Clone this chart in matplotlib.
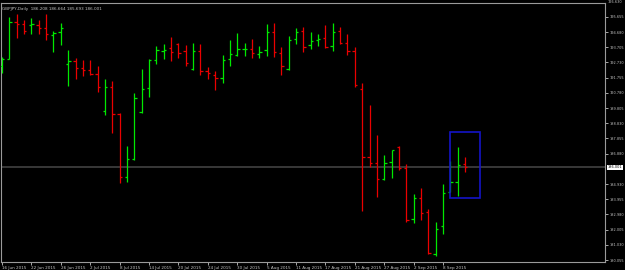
import numpy as np
import matplotlib
matplotlib.use("Agg")
import matplotlib.pyplot as plt
import matplotlib.transforms as mtransforms
from matplotlib.patches import Rectangle

# daily GBPJPY bars, 16 Jun 2015 .. 11 Sep 2015
opens = [192.50, 192.97, 195.32, 195.19, 195.15, 195.15, 194.92, 194.47, 194.66, 192.65,
         192.82, 192.35, 192.26, 191.98, 189.61, 191.17, 189.42, 185.36, 186.55, 189.53,
         191.07, 192.88, 193.46, 193.67, 193.89, 193.48, 192.31, 193.46, 192.18, 191.92,
         191.71, 192.93, 193.19, 193.56, 193.57, 193.27, 193.51, 194.66, 193.35, 192.31,
         194.21, 194.73, 193.85, 194.15, 194.28, 193.76, 194.74, 193.96, 193.46, 191.01,
         186.66, 186.28, 185.23, 186.32, 187.32, 185.94, 182.67, 184.03, 183.12, 180.42,
         182.24, 184.42, 185.06, 186.208]
highs = [193.08, 195.62, 195.83, 195.45, 195.56, 195.45, 195.85, 194.74, 195.26, 193.51,
         192.99, 192.88, 192.86, 192.50, 191.65, 191.56, 189.47, 187.37, 190.75, 192.31,
         192.93, 193.78, 193.91, 194.34, 193.96, 193.85, 193.98, 193.91, 192.46, 192.18,
         193.21, 194.15, 194.60, 194.00, 194.23, 193.80, 195.19, 195.24, 193.74, 194.42,
         194.96, 194.98, 194.68, 194.55, 195.13, 195.26, 195.00, 194.55, 193.72, 191.39,
         190.00, 188.07, 186.79, 187.11, 187.37, 186.21, 184.27, 184.67, 183.31, 182.49,
         184.93, 186.43, 187.28, 186.664]
lows = [192.05, 192.95, 194.32, 194.57, 194.57, 194.53, 194.19, 193.42, 193.87, 191.24,
        191.67, 191.84, 191.90, 190.85, 189.36, 188.22, 184.98, 185.08, 186.47, 189.50,
        190.53, 192.65, 192.97, 192.82, 192.99, 192.50, 192.26, 191.90, 191.65, 190.98,
        191.43, 192.52, 193.16, 193.14, 193.03, 193.03, 193.16, 193.10, 191.94, 192.26,
        193.93, 193.42, 193.59, 193.78, 193.67, 193.48, 193.93, 193.22, 191.13, 183.20,
        186.00, 184.12, 185.19, 185.34, 185.83, 182.51, 182.45, 182.64, 180.46, 180.33,
        181.74, 184.40, 184.18, 185.693]
closes = [192.97, 195.30, 195.17, 194.73, 195.17, 194.94, 194.55, 194.62, 194.96, 192.80,
          192.39, 192.26, 191.98, 191.17, 191.17, 189.40, 185.40, 186.55, 190.43, 191.04,
          192.88, 193.53, 193.54, 193.38, 193.31, 192.67, 193.46, 192.20, 192.05, 191.71,
          192.86, 193.27, 193.59, 193.59, 193.31, 193.42, 194.66, 193.38, 192.48, 194.17,
          194.66, 193.70, 194.08, 194.21, 193.72, 194.66, 193.99, 193.46, 191.26, 186.66,
          186.28, 185.25, 186.28, 187.09, 185.94, 182.64, 184.05, 183.07, 180.52, 182.04,
          184.33, 185.06, 186.17, 186.001]

date_labels = ["16 Jun 2015", "22 Jun 2015", "26 Jun 2015", "2 Jul 2015", "8 Jul 2015",
               "14 Jul 2015", "20 Jul 2015", "24 Jul 2015", "30 Jul 2015", "5 Aug 2015",
               "11 Aug 2015", "17 Aug 2015", "21 Aug 2015", "27 Aug 2015", "2 Sep 2015",
               "8 Sep 2015"]
price_labels = ["195.655", "194.680", "193.705", "192.730", "191.755", "190.780",
                "189.805", "188.830", "187.855", "186.880", "184.930", "183.955",
                "182.980", "182.005", "181.030", "180.055"]
top_label = "196.630"
bid = 186.001
title = "GBPJPY,Daily  186.208 186.664 185.693 186.001"

# zone box drawn on the chart (bar index / price)
box_x = [61.0, 65.1]
box_y = [184.01, 188.25]

GREEN = "#00e800"
RED = "#ea0000"
GREY = "#c4c4c4"
FS = 3.0
FS_Y = 2.55


def main():
    fig = plt.figure(figsize=(6.25, 2.7), dpi=100, facecolor="black")
    ax = fig.add_axes([0.0016, 0.0296, 0.9664, 0.9593])
    ax.set_facecolor("black")

    x = np.arange(len(opens))
    o = np.array(opens)
    c = np.array(closes)
    cols = [GREEN if cc >= oo else RED for oo, cc in zip(o, c)]

    # bid line behind the bars
    ax.axhline(bid, color="#3c3c3c", lw=1.3, zorder=1)

    ax.vlines(x, lows, highs, colors=cols, lw=0.9, zorder=3)
    ax.hlines(o, x - 0.32, x, colors=cols, lw=0.9, zorder=3)
    ax.hlines(c, x, x + 0.32, colors=cols, lw=0.9, zorder=3)

    ax.add_patch(Rectangle((box_x[0], box_y[0]), box_x[1] - box_x[0], box_y[1] - box_y[0],
                           fill=False, edgecolor="#1414c8", lw=1.2, zorder=4))

    ax.set_xlim(-0.14, 82.04)
    ax.set_ylim(179.93, 196.54)

    for s in ax.spines.values():
        s.set_color("#9a9a9a")
        s.set_linewidth(0.8)

    ax.yaxis.tick_right()
    ax.set_yticks([float(p) for p in price_labels])
    ax.set_yticklabels(price_labels)
    ax.set_xticks(np.arange(0, len(opens), 4))
    ax.set_xticklabels(date_labels)
    plt.setp(ax.get_xticklabels(), ha="left")
    ax.tick_params(axis="both", colors=GREY, length=2, width=0.6, pad=1.0)
    ax.tick_params(axis="x", labelsize=FS)
    ax.tick_params(axis="y", labelsize=FS_Y)

    tr = mtransforms.blended_transform_factory(ax.transAxes, ax.transData)
    ax.text(1.0045, 196.63, top_label, transform=tr, color=GREY, fontsize=FS_Y,
            va="center", ha="left", clip_on=False)
    ax.text(1.005, bid, "186.001", transform=tr, color="black", fontsize=FS_Y,
            va="center", ha="left", clip_on=False,
            bbox=dict(facecolor="white", edgecolor="none", pad=0.4))

    ax.text(0.002, 0.985, title, transform=ax.transAxes, color=GREY, fontsize=FS,
            va="top", ha="left")

    fig.savefig("out.png", dpi=100, facecolor="black")


main()
